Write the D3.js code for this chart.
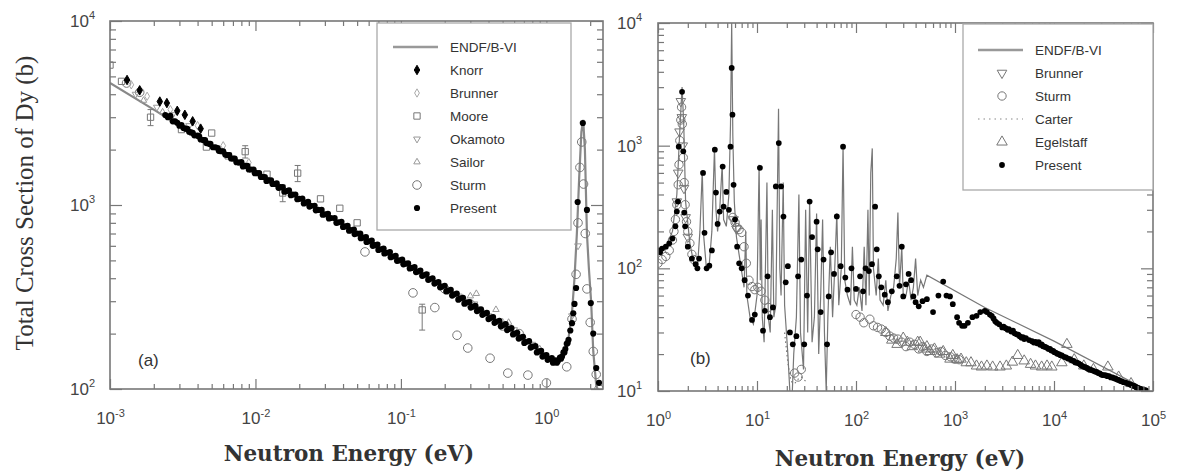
<!DOCTYPE html>
<html>
<head>
<meta charset="utf-8">
<title>Total cross section of Dy</title>
<script src="https://d3js.org/d3.v7.min.js"></script>
<style type="text/css">
  body { margin: 0; background: #fff; }
  text { font-family: 'Liberation Sans', Arial, sans-serif; }
</style>
</head>
<body>
<script type="text/javascript">

var svgWidth = 1179;
var svgHeight = 474;

// ---------- panel (a) : [energy (eV), cross section (b)] ----------
var endfA = [
  [0.001, 4600], [0.002, 3300], [0.005, 2100], [0.01, 1500], [0.02, 1080],
  [0.05, 700], [0.1, 500], [0.2, 360], [0.35, 275], [0.5, 225], [0.7, 185],
  [0.9, 160], [1.0, 150], [1.1, 142], [1.2, 140], [1.3, 150], [1.4, 175],
  [1.5, 260], [1.56, 400], [1.62, 700], [1.68, 1400], [1.74, 2500], [1.79, 2900],
  [1.84, 2000], [1.9, 700], [1.96, 450], [2.03, 300], [2.1, 160], [2.2, 105],
  [2.3, 95], [2.45, 90]
];
var knorrA = [
  [0.00131, 4780], [0.0016, 4200], [0.0022, 3650], [0.00246, 3580], [0.0029, 3250],
  [0.00327, 3090], [0.0037, 2850], [0.0042, 2600]
];
var brunnerA = [
  [0.0014, 4500], [0.0018, 3900], [0.0026, 3300], [0.004, 2700], [0.006, 2100],
  [0.009, 1700], [0.22, 330], [0.3, 290], [0.5, 230], [0.7, 190]
];
// [energy, cross section, error down, error up]
var mooreA = [
  [0.001, 5760, 0, 0], [0.0012, 4700, 0, 0], [0.0019, 3000, 300, 300], [0.0031, 2570, 0, 0],
  [0.0046, 2065, 0, 0], [0.005, 2460, 0, 0], [0.0065, 1850, 0, 0], [0.0085, 1950, 150, 150],
  [0.012, 1470, 0, 0], [0.0154, 1162, 120, 120], [0.0195, 1490, 150, 150], [0.028, 1080, 0, 0],
  [0.038, 960, 0, 0], [0.05, 800, 0, 0], [0.14, 269, 60, 20]
];
var okamotoA = [
  [0.0015, 4000], [0.0021, 3400], [0.0027, 3100], [0.0035, 2700], [0.15, 420],
  [0.25, 320], [0.32, 290], [0.4, 250], [0.6, 210], [0.8, 175], [1.5, 250], [1.65, 600]
];
var sailorA = [
  [0.0017, 3700], [0.0023, 3200], [0.3, 320], [0.33, 330], [0.45, 270],
  [0.55, 230], [0.9, 165]
];
var sturmA = [
  [0.0013, 4600], [0.0016, 4100], [0.0566, 556], [0.121, 333], [0.171, 277], [0.243, 196],
  [0.288, 167], [0.41, 147], [0.543, 122], [0.746, 119], [1.0, 108], [1.38, 132],
  [0.2, 350], [0.3, 290], [0.5, 220], [0.65, 200], [1.5, 240], [1.6, 420], [1.65, 800],
  [1.7, 1600], [1.75, 2200], [1.8, 1300], [1.85, 700], [1.9, 350], [2.0, 230],
  [2.1, 160], [2.2, 120], [2.3, 100]
];
var presentA = [
  [0.0024, 3080], [0.0025, 3000], [0.0026, 3050], [0.0027, 2850], [0.0028, 2850], [0.0029, 2800],
  [0.003, 2700], [0.0031, 2720], [0.0032, 2620], [0.0033, 2600], [0.0034, 2590], [0.0035, 2500],
  [0.0036, 2480], [0.0037, 2470], [0.0038, 2390], [0.004, 2380], [0.0041, 2360], [0.0042, 2270],
  [0.0044, 2250], [0.0045, 2250], [0.0046, 2170], [0.0048, 2150], [0.0049, 2150], [0.0051, 2060],
  [0.0053, 2060], [0.0055, 2040], [0.0056, 1970], [0.0058, 1960], [0.006, 1960], [0.0062, 1880],
  [0.0064, 1870], [0.0066, 1870], [0.0068, 1790], [0.007, 1790], [0.0072, 1790], [0.0074, 1710],
  [0.0077, 1700], [0.008, 1710], [0.0082, 1620], [0.0085, 1630], [0.0088, 1630], [0.009, 1560],
  [0.0093, 1560], [0.0097, 1560], [0.0099, 1490], [0.0102, 1490], [0.0106, 1490], [0.0109, 1420],
  [0.0112, 1420], [0.0116, 1420], [0.0119, 1350], [0.0123, 1360], [0.0128, 1360], [0.0131, 1300],
  [0.0135, 1300], [0.014, 1310], [0.0144, 1240], [0.0148, 1250], [0.0154, 1250], [0.0158, 1180],
  [0.0163, 1190], [0.017, 1200], [0.0175, 1130], [0.018, 1140], [0.0188, 1140], [0.0194, 1075],
  [0.02, 1080], [0.021, 1085], [0.0215, 1020], [0.022, 1030], [0.023, 1040], [0.0235, 980],
  [0.024, 990], [0.0255, 990], [0.026, 935], [0.027, 940], [0.0285, 940], [0.029, 885],
  [0.03, 890], [0.0315, 895], [0.032, 845], [0.033, 850], [0.035, 850], [0.036, 800],
  [0.037, 805], [0.039, 810], [0.04, 760], [0.041, 765], [0.043, 770], [0.044, 725],
  [0.045, 730], [0.0475, 735], [0.048, 695], [0.05, 700], [0.0525, 700], [0.053, 660],
  [0.055, 665], [0.0575, 670], [0.058, 630], [0.06, 635], [0.063, 640], [0.064, 600],
  [0.066, 605], [0.069, 610], [0.07, 570], [0.073, 575], [0.076, 580], [0.077, 545],
  [0.08, 550], [0.084, 555], [0.085, 520], [0.088, 525], [0.092, 530], [0.094, 497],
  [0.097, 500], [0.102, 505], [0.104, 476], [0.107, 480], [0.112, 482], [0.115, 452],
  [0.118, 455], [0.124, 460], [0.127, 432], [0.13, 435], [0.136, 440], [0.14, 412],
  [0.143, 415], [0.15, 420], [0.154, 392], [0.157, 395], [0.165, 400], [0.17, 374],
  [0.173, 378], [0.181, 381], [0.186, 357], [0.19, 360], [0.2, 364], [0.205, 339],
  [0.21, 342], [0.22, 346], [0.225, 322], [0.23, 326], [0.242, 330], [0.248, 306],
  [0.255, 310], [0.267, 313], [0.273, 291], [0.28, 294], [0.295, 297], [0.302, 277],
  [0.31, 280], [0.325, 283], [0.333, 265], [0.34, 268], [0.355, 271], [0.363, 253],
  [0.37, 256], [0.39, 259], [0.4, 240], [0.41, 243], [0.43, 246], [0.44, 229],
  [0.45, 232], [0.475, 235], [0.487, 219], [0.5, 222], [0.525, 225], [0.537, 209],
  [0.55, 212], [0.575, 214], [0.59, 198], [0.6, 200], [0.63, 202], [0.645, 188],
  [0.66, 190], [0.69, 192], [0.705, 178], [0.72, 180], [0.76, 182], [0.78, 168],
  [0.8, 170], [0.84, 171], [0.86, 158], [0.88, 160], [0.92, 161], [0.94, 150],
  [0.96, 152], [1.0, 153], [1.02, 144], [1.05, 146], [1.09, 147], [1.11, 139],
  [1.13, 140], [1.16, 143], [1.18, 139], [1.2, 142], [1.24, 148], [1.26, 146],
  [1.28, 150], [1.31, 158], [1.33, 158], [1.35, 165], [1.38, 176], [1.4, 178],
  [1.42, 185], [1.46, 208], [1.5, 228], [1.53, 258], [1.56, 290], [1.6, 354],
  [1.64, 1038], [1.78, 2790], [1.9, 940], [2.02, 293], [2.1, 200], [2.2, 130], [2.3, 108]
];

// ---------- panel (b) ----------
var endfB = [
  [1.0, 140], [1.2, 150], [1.4, 200], [1.55, 400], [1.65, 1200], [1.75, 3000], [1.82, 1500],
  [1.9, 350], [2.1, 160], [2.3, 110], [2.5, 100], [2.65, 200], [2.8, 620], [2.9, 180],
  [3.1, 95], [3.3, 110], [3.5, 200], [3.72, 950], [3.85, 300], [4.0, 200], [4.2, 300],
  [4.45, 700], [4.6, 250], [4.9, 220], [5.2, 400], [5.4, 1500], [5.55, 10000], [5.7, 1200],
  [5.9, 350], [6.2, 180], [6.8, 110], [7.4, 70], [7.7, 200], [7.9, 60], [8.5, 40],
  [9.2, 35], [10.0, 60], [10.5, 700], [10.8, 80], [11.0, 250], [11.3, 40], [11.8, 25],
  [12.6, 500], [13.0, 40], [13.6, 30], [14.3, 300], [14.8, 40], [15.5, 50], [16.5, 2000],
  [17.0, 100], [17.5, 60], [18.4, 500], [19.0, 50], [20.5, 20], [22.2, 6], [23.5, 20],
  [25.0, 40], [26.5, 400], [27.5, 30], [29.5, 15], [31, 300], [32.5, 30], [34, 350],
  [36, 25], [38, 40], [40, 280], [42, 20], [44, 60], [46, 250], [48, 30], [50, 10],
  [52, 40], [55, 150], [58, 40], [61, 100], [64, 280], [67, 50], [71, 100], [74, 1000],
  [77, 80], [82, 60], [88, 50], [92, 150], [96, 55], [102, 50], [108, 70], [115, 45],
  [121, 150], [126, 50], [132, 300], [136, 60], [141, 600], [146, 950], [150, 100],
  [160, 60], [168, 120], [175, 55], [188, 50], [200, 80], [210, 45], [225, 60],
  [240, 70], [255, 120], [265, 285], [275, 70], [290, 150], [300, 60], [320, 60],
  [340, 80], [360, 55], [380, 70], [400, 120], [420, 60], [450, 80], [480, 70],
  [520, 88], [2000, 48], [10000, 25.5], [100000, 9.6]
];
var brunnerB = [
  [1.55, 350], [1.6, 600], [1.65, 1300], [1.7, 2300], [1.74, 1700], [1.78, 1000],
  [1.83, 450], [1.9, 260], [2.0, 180], [5.8, 250], [6.2, 210]
];
var sturmB = [
  [1.0, 110], [1.1, 118], [1.2, 125], [1.3, 140], [1.4, 170], [1.45, 200], [1.5, 250],
  [1.55, 330], [1.6, 480], [1.63, 700], [1.66, 1100], [1.7, 1620], [1.73, 2060],
  [1.76, 1500], [1.8, 800], [1.84, 500], [1.88, 330], [1.94, 240], [2.0, 200],
  [2.1, 160], [2.2, 130], [2.3, 118], [5.7, 260], [6.0, 237], [6.3, 215], [6.6, 207],
  [7.0, 196], [7.4, 150], [7.8, 110], [8.3, 80], [8.9, 71], [9.5, 67], [10.2, 70],
  [11, 65], [12, 55], [13, 48], [24, 14], [26, 13], [28, 15], [100, 42], [110, 40],
  [120, 36], [138, 38.5], [150, 34], [165, 33], [180, 32], [200, 30], [220, 28],
  [240, 27], [265, 26.5], [290, 25], [320, 23], [350, 25], [390, 24], [430, 22],
  [470, 23], [520, 21], [580, 22], [650, 20.5], [720, 21], [800, 19.5], [900, 19],
  [1000, 18.2], [1100, 18]
];
var carterB = [
  [19, 30], [20.5, 17], [22, 12], [24, 11.5], [26, 12.5], [28, 13], [31, 12]
];
var egelstaffB = [
  [200, 30], [230, 26], [260, 24], [300, 27], [330, 25], [370, 23], [420, 25], [445, 25],
  [480, 22], [520, 23], [560, 21], [620, 22], [700, 20], [760, 21], [890, 18.2],
  [950, 19.5], [1050, 18], [1150, 18.2], [1300, 17], [1450, 17], [1650, 16],
  [1850, 15.7], [2100, 16], [2400, 15.7], [2850, 15.7], [3300, 16], [3800, 17.2],
  [4300, 19.5], [5000, 17.6], [5800, 16.5], [6500, 16], [7500, 15.7], [8500, 16],
  [9500, 15.7], [12000, 17], [13500, 24], [16000, 18], [20000, 16], [25000, 15],
  [35000, 15.7], [45000, 13], [60000, 11.5]
];
var presentB = [
  [1.0, 140], [1.05, 135], [1.1, 145], [1.2, 150], [1.3, 160], [1.4, 175], [1.5, 220],
  [1.55, 290], [1.59, 350], [1.62, 980], [1.75, 2750], [1.8, 900], [1.84, 285],
  [1.88, 220], [2.0, 150], [2.2, 120], [2.4, 108], [2.5, 100], [2.6, 120], [2.85, 600],
  [2.95, 195], [3.1, 100], [3.3, 105], [3.5, 140], [3.75, 927], [3.85, 415], [4.0, 230],
  [4.2, 290], [4.5, 675], [4.6, 318], [4.9, 420], [5.2, 300], [5.4, 980], [5.55, 4300],
  [5.65, 1790], [5.8, 480], [6.0, 250], [6.3, 150], [6.6, 110], [7.0, 100], [7.5, 80],
  [8.1, 60], [8.9, 38], [9.5, 42], [10.7, 660], [11.5, 31], [12.0, 45], [12.8, 86],
  [13.5, 40], [14.5, 48], [15.5, 465], [16.6, 1050], [17.5, 465], [18.5, 264],
  [19.5, 77], [20.5, 104], [21.5, 30], [23, 24], [25, 28], [26, 86], [28, 118],
  [30, 24], [32, 60], [34, 350], [36, 180], [40, 240], [41, 143], [44, 44], [47, 118],
  [51, 24], [53, 59], [56, 135], [60, 90], [64, 265], [70, 104], [74, 980], [78, 84],
  [82, 67], [90, 100], [100, 68], [110, 86], [118, 65], [125, 100], [135, 95],
  [145, 108], [156, 318], [162, 143], [170, 86], [180, 70], [195, 61], [210, 53],
  [230, 65], [258, 86], [275, 72], [290, 150], [300, 59], [320, 74], [340, 90],
  [360, 80], [380, 59], [400, 53], [430, 49], [470, 54], [520, 56], [600, 44],
  [680, 60], [760, 78], [820, 60], [890, 59], [950, 51], [1050, 40], [1100, 36],
  [1180, 34], [1250, 34], [1350, 36], [1500, 40], [1650, 41], [1800, 44], [2000, 45],
  [2100, 44], [2250, 42], [2350, 41], [2450, 39], [2550, 37], [2650, 36], [2800, 35],
  [3000, 33], [3100, 33.5], [3250, 32.5], [3400, 31.5], [3500, 32], [3700, 30.5],
  [3850, 31], [4000, 29.5], [4200, 29], [4350, 28.8], [4500, 28], [4700, 27.2],
  [4850, 27.5], [5000, 26.5], [5200, 27], [5600, 26], [6000, 25.5], [6250, 24.8],
  [6500, 25.2], [6750, 24.5], [7000, 25], [7250, 23.8], [7500, 24], [7750, 23.2],
  [8000, 23], [8250, 22.8], [8500, 22.5], [8800, 22], [9100, 22], [9400, 21.4],
  [9800, 21.2], [10100, 20.7], [10500, 20.5], [10800, 20.1], [11200, 20], [11600, 19.6],
  [12000, 19.5], [12600, 19], [13200, 18.8], [13800, 18.4], [14500, 18.2], [15100, 17.8],
  [15800, 17.6], [16400, 17.1], [17000, 17], [17700, 16.8], [18500, 16.4], [19200, 16],
  [20000, 15.8], [20700, 15.6], [21500, 15.4], [22200, 15.1], [23000, 15], [24000, 14.8],
  [25000, 14.6], [26000, 14.4], [27000, 14.3], [28000, 14], [29000, 13.9], [30000, 13.6],
  [31000, 13.5], [32200, 13.5], [33500, 13.4], [34700, 13.2], [36000, 13.2],
  [37500, 12.9], [39000, 12.9], [40500, 12.7], [42000, 12.6], [43500, 12.4],
  [45000, 12.3], [46500, 12.1], [48000, 12], [50500, 11.8], [53000, 11.7],
  [55500, 11.5], [58000, 11.4], [60000, 11.2], [62000, 11.1], [64000, 11],
  [66000, 10.9], [68000, 10.7], [70000, 10.6], [72500, 10.5], [75000, 10.4],
  [77500, 10.3], [80000, 10.2], [82500, 10.15], [85000, 10.1]
];

var legendA = ['ENDF/B-VI', 'Knorr', 'Brunner', 'Moore', 'Okamoto', 'Sailor', 'Sturm', 'Present'];
var legendB = ['ENDF/B-VI', 'Brunner', 'Sturm', 'Carter', 'Egelstaff', 'Present'];

// marker styles
var styleA = {
  'Knorr':   {type: d3.symbolDiamond, size: 26, fill: '#000', stroke: '#000'},
  'Brunner': {type: d3.symbolDiamond, size: 20, fill: 'none', stroke: '#aaa'},
  'Moore':   {type: d3.symbolSquare, size: 40, fill: 'none', stroke: '#777'},
  'Okamoto': {type: d3.symbolTriangle, size: 20, fill: 'none', stroke: '#999', rot: 180},
  'Sailor':  {type: d3.symbolTriangle, size: 18, fill: 'none', stroke: '#999'},
  'Sturm':   {type: d3.symbolCircle, size: 58, fill: 'none', stroke: '#777'},
  'Present': {type: d3.symbolCircle, size: 30, fill: '#000', stroke: 'none'}
};
var styleB = {
  'Brunner':   {type: d3.symbolTriangle, size: 40, fill: 'none', stroke: '#777', rot: 180},
  'Sturm':     {type: d3.symbolCircle, size: 55, fill: 'none', stroke: '#777'},
  'Egelstaff': {type: d3.symbolTriangle, size: 48, fill: 'none', stroke: '#777'},
  'Present':   {type: d3.symbolCircle, size: 26, fill: '#000', stroke: 'none'}
};

var svg = d3.select('body')
  .append('svg')
  .attr('width', svgWidth)
  .attr('height', svgHeight);

var xA = d3.scaleLog().domain([1e-3, 2.45]).range([110, 603]);
var yA = d3.scaleLog().domain([1e2, 1e4]).range([389, 21]);
var xB = d3.scaleLog().domain([1, 1e5]).range([658, 1153]);
var yB = d3.scaleLog().domain([1e1, 1e4]).range([391, 23]);

function majorTicks(s) {
  var d = s.domain(), out = [];
  for (var p = Math.floor(Math.log10(d[0])); p <= Math.ceil(Math.log10(d[1])); p++) {
    var v = Math.pow(10, p);
    if (v >= d[0] * 0.999 && v <= d[1] * 1.001) out.push(v);
  }
  return out;
}
function minorTicks(s) {
  var d = s.domain(), out = [];
  for (var p = Math.floor(Math.log10(d[0])); p <= Math.ceil(Math.log10(d[1])); p++)
    for (var m = 2; m <= 9; m++) {
      var v = m * Math.pow(10, p);
      if (v > d[0] && v < d[1]) out.push(v);
    }
  return out;
}

function supLabels(sel) {
  sel.each(function(d) {
    var t = d3.select(this).text(null);
    t.append('tspan').text('10');
    t.append('tspan').attr('dy', -7.5).attr('font-size', 11)
      .text(Math.round(Math.log10(d)));
  });
}

function styleAxis(g) {
  g.select('.domain').remove();
  g.selectAll('line').attr('stroke', '#777').attr('stroke-width', 1.2);
  g.selectAll('text').attr('fill', '#444').attr('font-size', 17);
}

function drawFrame(x, y, xPad, yPad) {
  var x0 = x.range()[0], x1 = x.range()[1], y0 = y.range()[0], y1 = y.range()[1];
  var g = svg.append('g');
  // bottom
  g.append('g').attr('transform', 'translate(0,' + y0 + ')')
    .call(d3.axisBottom(x).tickValues(majorTicks(x)).tickSize(-10).tickPadding(xPad).tickFormat(''))
    .call(styleAxis).selectAll('text').call(supLabels);
  g.append('g').attr('transform', 'translate(0,' + y0 + ')')
    .call(d3.axisBottom(x).tickValues(minorTicks(x)).tickSize(-5).tickFormat('')).call(styleAxis);
  // top
  g.append('g').attr('transform', 'translate(0,' + y1 + ')')
    .call(d3.axisTop(x).tickValues(majorTicks(x)).tickSize(-10).tickFormat('')).call(styleAxis);
  g.append('g').attr('transform', 'translate(0,' + y1 + ')')
    .call(d3.axisTop(x).tickValues(minorTicks(x)).tickSize(-5).tickFormat('')).call(styleAxis);
  // left
  g.append('g').attr('transform', 'translate(' + x0 + ',0)')
    .call(d3.axisLeft(y).tickValues(majorTicks(y)).tickSize(-12).tickPadding(yPad).tickFormat(''))
    .call(styleAxis).selectAll('text').call(supLabels);
  g.append('g').attr('transform', 'translate(' + x0 + ',0)')
    .call(d3.axisLeft(y).tickValues(minorTicks(y)).tickSize(-6).tickFormat('')).call(styleAxis);
  // right
  g.append('g').attr('transform', 'translate(' + x1 + ',0)')
    .call(d3.axisRight(y).tickValues(majorTicks(y)).tickSize(-12).tickFormat('')).call(styleAxis);
  g.append('g').attr('transform', 'translate(' + x1 + ',0)')
    .call(d3.axisRight(y).tickValues(minorTicks(y)).tickSize(-6).tickFormat('')).call(styleAxis);
  g.append('rect')
    .attr('x', x0).attr('y', y1).attr('width', x1 - x0).attr('height', y0 - y1)
    .attr('fill', 'none').attr('stroke', '#777').attr('stroke-width', 1.6);
}

function clipFor(id, x, y) {
  svg.append('clipPath').attr('id', id).append('rect')
    .attr('x', x.range()[0]).attr('y', y.range()[1])
    .attr('width', x.range()[1] - x.range()[0])
    .attr('height', y.range()[0] - y.range()[1]);
  return svg.append('g').attr('clip-path', 'url(#' + id + ')');
}

function drawLine(g, data, x, y, color, width, dash) {
  g.append('path').datum(data)
    .attr('d', d3.line().x(function(d) { return x(d[0]); }).y(function(d) { return y(d[1]); }))
    .attr('fill', 'none').attr('stroke', color).attr('stroke-width', width)
    .attr('stroke-dasharray', dash || null);
}

function drawPoints(g, data, x, y, st) {
  var sym = d3.symbol().type(st.type).size(st.size);
  g.selectAll(null).data(data).enter().append('path')
    .attr('d', sym)
    .attr('transform', function(d) {
      return 'translate(' + x(d[0]) + ',' + y(d[1]) + ')' + (st.rot ? ' rotate(' + st.rot + ')' : '');
    })
    .attr('fill', st.fill).attr('stroke', st.stroke).attr('stroke-width', 1);
}

function drawErrors(g, data, x, y) {
  g.selectAll(null).data(data.filter(function(d) { return d[2] > 0 || d[3] > 0; }))
    .enter().append('g')
    .each(function(d) {
      var e = d3.select(this), cx = x(d[0]);
      e.append('line').attr('x1', cx).attr('x2', cx)
        .attr('y1', y(d[1] - d[2])).attr('y2', y(d[1] + d[3]));
      e.append('line').attr('x1', cx - 3).attr('x2', cx + 3)
        .attr('y1', y(d[1] - d[2])).attr('y2', y(d[1] - d[2]));
      e.append('line').attr('x1', cx - 3).attr('x2', cx + 3)
        .attr('y1', y(d[1] + d[3])).attr('y2', y(d[1] + d[3]));
    })
    .attr('stroke', '#777').attr('stroke-width', 1);
}

// ---------- panel (a) ----------
var gA = clipFor('clipA', xA, yA);
drawLine(gA, endfA, xA, yA, '#888', 2.2);
drawErrors(gA, mooreA, xA, yA);
drawPoints(gA, sturmA, xA, yA, styleA['Sturm']);
drawPoints(gA, mooreA, xA, yA, styleA['Moore']);
drawPoints(gA, brunnerA, xA, yA, styleA['Brunner']);
drawPoints(gA, okamotoA, xA, yA, styleA['Okamoto']);
drawPoints(gA, sailorA, xA, yA, styleA['Sailor']);
drawPoints(gA, presentA, xA, yA, styleA['Present']);
drawPoints(gA, knorrA, xA, yA, styleA['Knorr']);
drawFrame(xA, yA, 23, 15);

// ---------- panel (b) ----------
var gB = clipFor('clipB', xB, yB);
drawLine(gB, endfB, xB, yB, '#777', 1.2);
drawLine(gB, carterB, xB, yB, '#777', 1.2, '1.5,3');
drawPoints(gB, sturmB, xB, yB, styleB['Sturm']);
drawPoints(gB, egelstaffB, xB, yB, styleB['Egelstaff']);
drawPoints(gB, brunnerB, xB, yB, styleB['Brunner']);
drawPoints(gB, presentB, xB, yB, styleB['Present']);
drawFrame(xB, yB, 23, 16);

// ---------- legends ----------
function drawLegend(box, names, styles, symX, textX, rowY, rowH) {
  var g = svg.append('g');
  g.append('rect').attr('x', box[0]).attr('y', box[1])
    .attr('width', box[2] - box[0]).attr('height', box[3] - box[1])
    .attr('fill', '#fff').attr('stroke', '#aaa').attr('stroke-width', 1.3);
  names.forEach(function(n, i) {
    var yy = rowY + i * rowH;
    if (n === 'ENDF/B-VI') {
      g.append('line').attr('x1', symX - 24).attr('x2', symX + 21).attr('y1', yy).attr('y2', yy)
        .attr('stroke', '#999').attr('stroke-width', 2.5);
    } else if (n === 'Carter') {
      g.append('line').attr('x1', symX - 24).attr('x2', symX + 21).attr('y1', yy).attr('y2', yy)
        .attr('stroke', '#888').attr('stroke-width', 1.2).attr('stroke-dasharray', '1.5,4');
    } else {
      var st = styles[n];
      g.append('path').attr('d', d3.symbol().type(st.type).size(st.size))
        .attr('transform', 'translate(' + symX + ',' + yy + ')' + (st.rot ? ' rotate(' + st.rot + ')' : ''))
        .attr('fill', st.fill).attr('stroke', st.stroke);
    }
    g.append('text').attr('x', textX).attr('y', yy).attr('dy', '0.36em')
      .attr('font-size', 13.5).attr('fill', '#333').text(n);
  });
}
drawLegend([377, 23, 571, 230], legendA, styleA, 417, 450, 47, 23);
drawLegend([963, 24, 1153, 190], legendB, styleB, 1002, 1035, 50, 23);

// ---------- panel labels and titles ----------
svg.append('text').attr('x', 138).attr('y', 366).attr('font-size', 17).attr('fill', '#333').text('(a)');
svg.append('text').attr('x', 690).attr('y', 364).attr('font-size', 17).attr('fill', '#333').text('(b)');

svg.append('text')
  .attr('transform', 'translate(33,203) rotate(-90)')
  .attr('text-anchor', 'middle')
  .style('font-family', "'Liberation Serif', 'DejaVu Serif', serif")
  .attr('font-size', 25).attr('fill', '#333')
  .text('Total Cross Section of Dy (b)');

svg.append('text')
  .attr('x', 349).attr('y', 461).attr('text-anchor', 'middle')
  .style('font-family', "'DejaVu Serif', serif").attr('font-weight', 'bold')
  .attr('font-size', 21.5).attr('fill', '#333')
  .text('Neutron Energy (eV)');
svg.append('text')
  .attr('x', 900).attr('y', 466).attr('text-anchor', 'middle')
  .style('font-family', "'DejaVu Serif', serif").attr('font-weight', 'bold')
  .attr('font-size', 21.5).attr('fill', '#333')
  .text('Neutron Energy (eV)');

</script>
</body>
</html>
